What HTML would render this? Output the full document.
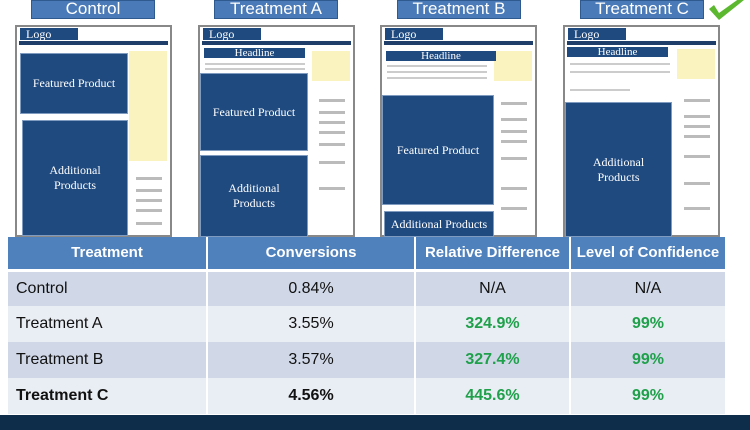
<!DOCTYPE html>
<html><head><style>
*{margin:0;padding:0;box-sizing:border-box}
body{width:750px;height:430px;background:#fff;position:relative;overflow:hidden;font-family:"Liberation Sans",sans-serif}
.lbl{position:absolute;top:0;height:19px;width:124px;background:#4a7ab8;border:1px solid #2f5a90;color:#fff;font-size:17px;text-align:center;line-height:16px}
.pg{position:absolute;top:25px;width:157px;height:212px;border:2px solid #888;background:#fff}
.logo{position:absolute;left:3px;top:1px;width:58px;height:12px;background:#1f4a80;color:#fff;font-family:"Liberation Serif",serif;font-size:12px;line-height:12px;padding-left:6px}
.nav{position:absolute;left:2px;right:2px;top:14px;height:4px;background:#1f3f6a}
.box{position:absolute;background:#1f4a80;color:#fff;font-family:"Liberation Serif",serif;font-size:12px;text-align:center;display:flex;align-items:center;justify-content:center;line-height:15px;border:1px solid #7f9cc0}
.side{position:absolute;right:3px;width:38px;background:#faf3c0}
.sl{position:absolute;right:8px;width:26px;height:3px;background:#bbb}
.hd{position:absolute;background:#1f4a80;color:#fff;font-family:"Liberation Serif",serif;font-size:11px;text-align:center;line-height:10px}
.txt{position:absolute;height:2px;background:#ccc}
table{position:absolute;left:8px;top:237px;width:719px;border-collapse:collapse}
td,th{font-size:16px;text-align:center;border-right:2px solid #fff}
th{background:#4f81bd;color:#fff;height:33px;font-weight:bold;border-bottom:3px solid #fff;font-size:15px}
td{height:36px;color:#111}
tr.a td{background:#d0d8e8}tr.b td{background:#e9edf4}
td:first-child{text-align:left;padding-left:8px}
.g{color:#1fa04a;font-weight:bold}
.foot{position:absolute;left:0;top:415px;width:750px;height:15px;background:#0e2d4a}
</style></head><body>
<div class="lbl" style="left:31px">Control</div>
<div class="lbl" style="left:214px">Treatment A</div>
<div class="lbl" style="left:397px">Treatment B</div>
<div class="lbl" style="left:580px">Treatment C</div>
<svg style="position:absolute;left:706px;top:0" width="40" height="22"><path d="M3 9 L13 20 L38 0 L34 -2 L13 13 L8 5 Z" fill="#5cb82e"/></svg>

<div class="pg" style="left:15px"><div class="logo">Logo</div><div class="nav"></div>
<div class="side" style="top:24px;height:110px"></div>
<div class="sl" style="top:150px"></div><div class="sl" style="top:162px"></div><div class="sl" style="top:172px"></div><div class="sl" style="top:182px"></div><div class="sl" style="top:195px"></div>
<div class="box" style="left:3px;top:26px;width:108px;height:61px">Featured Product</div>
<div class="box" style="left:5px;top:93px;width:106px;height:116px">Additional<br>Products</div></div>

<div class="pg" style="left:198px"><div class="logo">Logo</div><div class="nav"></div>
<div class="side" style="top:24px;height:30px"></div>
<div class="sl" style="top:72px"></div><div class="sl" style="top:84px"></div><div class="sl" style="top:94px"></div><div class="sl" style="top:104px"></div><div class="sl" style="top:116px"></div><div class="sl" style="top:134px"></div><div class="sl" style="top:160px"></div>
<div class="hd" style="left:4px;top:21px;width:101px;height:10px">Headline</div>
<div class="txt" style="left:5px;top:36px;width:100px"></div><div class="txt" style="left:5px;top:41px;width:100px"></div>
<div class="box" style="left:0;top:46px;width:108px;height:78px">Featured Product</div>
<div class="box" style="left:0;top:128px;width:108px;height:82px">Additional<br>Products</div></div>

<div class="pg" style="left:380px"><div class="logo">Logo</div><div class="nav"></div>
<div class="side" style="top:24px;height:30px"></div>
<div class="sl" style="top:75px"></div><div class="sl" style="top:91px"></div><div class="sl" style="top:103px"></div><div class="sl" style="top:113px"></div><div class="sl" style="top:130px"></div><div class="sl" style="top:160px"></div><div class="sl" style="top:180px"></div>
<div class="hd" style="left:4px;top:24px;width:110px;height:10px">Headline</div>
<div class="txt" style="left:5px;top:38px;width:100px"></div><div class="txt" style="left:5px;top:44px;width:100px"></div><div class="txt" style="left:5px;top:50px;width:100px"></div>
<div class="box" style="left:0;top:68px;width:112px;height:110px">Featured Product</div>
<div class="box" style="left:2px;top:184px;width:110px;height:26px">Additional Products</div></div>

<div class="pg" style="left:563px"><div class="logo">Logo</div><div class="nav"></div>
<div class="side" style="top:22px;height:30px"></div>
<div class="sl" style="top:72px"></div><div class="sl" style="top:88px"></div><div class="sl" style="top:98px"></div><div class="sl" style="top:108px"></div><div class="sl" style="top:128px"></div><div class="sl" style="top:155px"></div><div class="sl" style="top:180px"></div>
<div class="hd" style="left:2px;top:20px;width:101px;height:10px">Headline</div>
<div class="txt" style="left:5px;top:36px;width:100px"></div><div class="txt" style="left:5px;top:44px;width:100px"></div><div class="txt" style="left:5px;top:62px;width:60px"></div>
<div class="box" style="left:0;top:75px;width:107px;height:135px">Additional<br>Products</div></div>

<table>
<tr><th style="width:199px">Treatment</th><th style="width:208px">Conversions</th><th style="width:155px">Relative Difference</th><th>Level of Confidence</th></tr>
<tr class="a"><td>Control</td><td>0.84%</td><td>N/A</td><td>N/A</td></tr>
<tr class="b"><td>Treatment A</td><td>3.55%</td><td class="g">324.9%</td><td class="g">99%</td></tr>
<tr class="a"><td>Treatment B</td><td>3.57%</td><td class="g">327.4%</td><td class="g">99%</td></tr>
<tr class="b"><td><b>Treatment C</b></td><td><b>4.56%</b></td><td class="g">445.6%</td><td class="g">99%</td></tr>
</table>
<div class="foot"></div>
</body></html>
